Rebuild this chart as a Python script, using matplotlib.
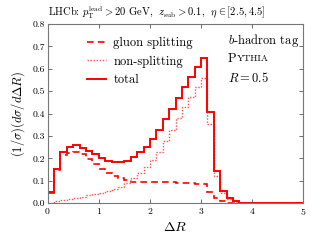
import numpy as np
import matplotlib
matplotlib.use("Agg")
import matplotlib.pyplot as plt

plt.rcParams['font.family'] = 'serif'
plt.rcParams['font.serif'] = ['cmr10', 'DejaVu Serif']
plt.rcParams['mathtext.fontset'] = 'cm'
plt.rcParams['axes.formatter.use_mathtext'] = True

# Histogram bins in Delta R (width 0.125, 0 to 5)
edges = np.linspace(0.0, 5.0, 41)

# (1/sigma) dsigma/dDeltaR per bin
total = [0.050, 0.155, 0.230, 0.250, 0.258, 0.248, 0.233, 0.218, 0.202, 0.189,
         0.183, 0.183, 0.190, 0.208, 0.230, 0.252, 0.289, 0.327, 0.374, 0.420,
         0.472, 0.518, 0.565, 0.607, 0.648, 0.407, 0.143, 0.055, 0.022, 0.008,
         0, 0, 0, 0, 0, 0, 0, 0, 0, 0]
gluon = [0.047, 0.147, 0.215, 0.225, 0.228, 0.218, 0.198, 0.177, 0.155, 0.135,
         0.121, 0.111, 0.102, 0.097, 0.095, 0.094, 0.096, 0.097, 0.097, 0.094,
         0.092, 0.090, 0.089, 0.088, 0.087, 0.050, 0.022, 0.009, 0.003, 0.001,
         0, 0, 0, 0, 0, 0, 0, 0, 0, 0]
nonsplit = [0.003, 0.008, 0.013, 0.018, 0.024, 0.030, 0.035, 0.041, 0.047, 0.054,
            0.062, 0.072, 0.090, 0.112, 0.135, 0.160, 0.193, 0.230, 0.277, 0.327,
            0.380, 0.430, 0.476, 0.520, 0.560, 0.355, 0.123, 0.045, 0.018, 0.006,
            0, 0, 0, 0, 0, 0, 0, 0, 0, 0]

fig = plt.figure(figsize=(3.2, 2.4), dpi=100)
ax = fig.add_axes([0.149, 0.153, 0.799, 0.747])

red = '#ff0000'
ax.stairs(gluon, edges, color=red, lw=1.2, ls=(0, (4, 2.5)), label='gluon splitting')
ax.stairs(nonsplit, edges, color='#ff5050', lw=1.0, ls=(0, (1, 1.2)), label='non-splitting')
ax.stairs(total, edges, color=red, lw=1.4, label='total')

ax.set_xlim(0, 5)
ax.set_ylim(0, 0.8)
ax.set_xticks(range(6))
ax.set_yticks(np.arange(0, 0.81, 0.1))
ax.set_yticklabels([f'{v:.1f}' for v in np.arange(0, 0.81, 0.1)])
ax.tick_params(direction='in', top=True, right=True, labelsize=7, length=3,
               width=0.6, color='#555555', pad=2)
for s in ax.spines.values():
    s.set_color('#777777')
    s.set_linewidth(0.8)

ax.set_xlabel(r'$\Delta R$', fontsize=10, labelpad=3)
ax.set_ylabel(r'$(1/\sigma)(d\sigma/d\Delta R)$', fontsize=9, labelpad=4)

ax.legend(loc='upper left', bbox_to_anchor=(0.11, 0.99), frameon=False,
          fontsize=9, handlelength=1.5, labelspacing=0.5, handletextpad=0.6)

ax.text(0.705, 0.91, r'$b$-hadron tag', transform=ax.transAxes, fontsize=9, va='center')
ax.text(0.705, 0.805, 'P', transform=ax.transAxes, fontsize=9, va='center')
ax.annotate('YTHIA', xy=(0.705, 0.805), xycoords='axes fraction', xytext=(6.6, 0),
            textcoords='offset points', fontsize=7, va='center')
ax.text(0.705, 0.70, r'$R = 0.5$', transform=ax.transAxes, fontsize=9, va='center')

fig.text(0.15, 0.95, r'LHCb: $p_{\rm T}^{\rm lead} > 20$ GeV,  $z_{\rm sub} > 0.1$,  $\eta \in [2.5, 4.5]$',
         fontsize=7.6, va='center')

fig.savefig('out.png', dpi=100)
